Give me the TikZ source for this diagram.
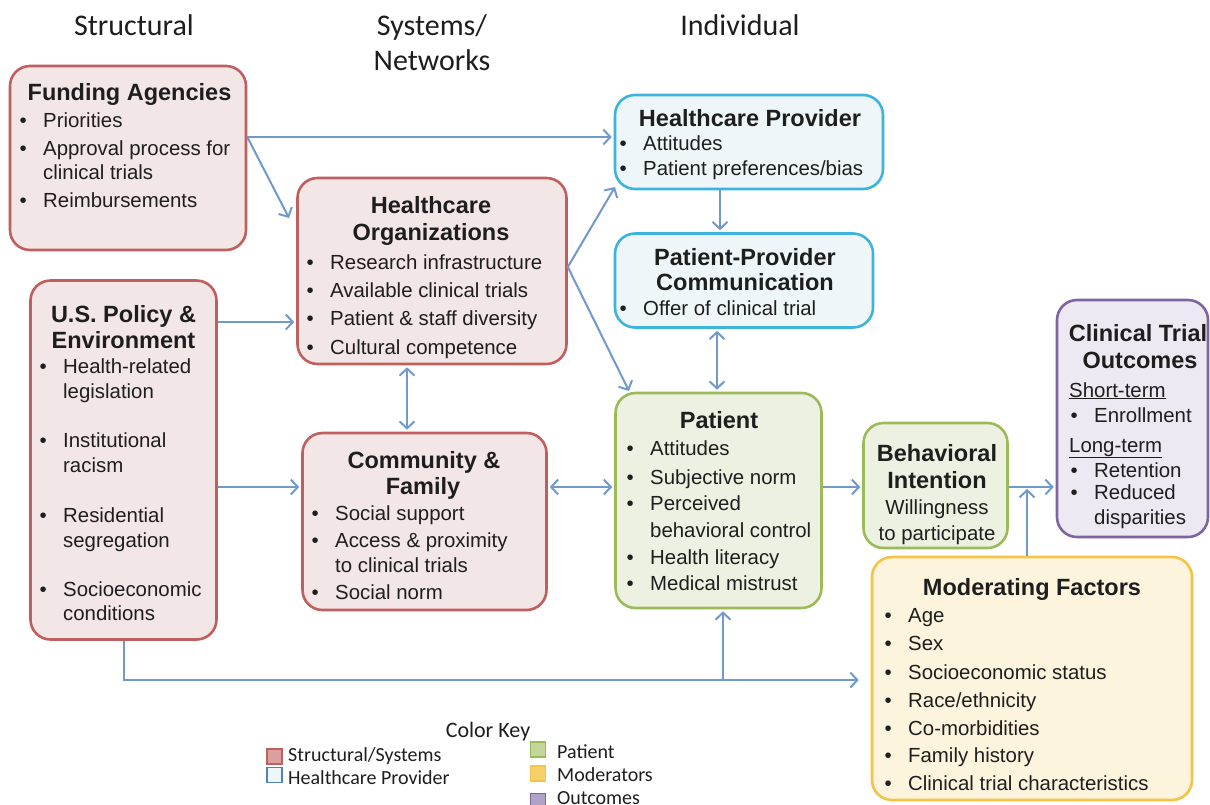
\documentclass[tikz,border=0pt]{standalone}
\usepackage{fontspec}
\setmainfont{Liberation Sans}
\newfontfamily\headfont{Carlito}
\usetikzlibrary{arrows.meta}

\definecolor{redB}{HTML}{C0605E}
\definecolor{redF}{HTML}{F3E6E6}
\definecolor{bluB}{HTML}{3CB4DC}
\definecolor{bluF}{HTML}{EEF6FA}
\definecolor{keyBlu}{HTML}{4F81BD}
\definecolor{grnB}{HTML}{9BBB59}
\definecolor{grnF}{HTML}{EDF1E2}
\definecolor{purB}{HTML}{8064A2}
\definecolor{purF}{HTML}{ECE9F2}
\definecolor{ylwB}{HTML}{F5C446}
\definecolor{ylwF}{HTML}{FDF4DE}
\definecolor{arr}{HTML}{7099CC}
\definecolor{ink}{HTML}{1E1E1E}

\tikzset{
  box/.style={draw, line width=2.6pt, rounded corners=20pt, inner sep=0pt},
  redbox/.style={box, draw=redB, fill=redF},
  blubox/.style={box, draw=bluB, fill=bluF},
  grnbox/.style={box, draw=grnB, fill=grnF},
  purbox/.style={box, draw=purB, fill=purF},
  ylwbox/.style={box, draw=ylwB, fill=ylwF},
  ttl/.style={font=\fontsize{23.5}{28}\selectfont\bfseries, text=ink, inner sep=0pt, anchor=base},
  sub/.style={font=\fontsize{20.4}{24}\selectfont, text=ink, inner sep=0pt, anchor=base},
  itm/.style={font=\fontsize{20.4}{24}\selectfont, text=ink, inner sep=0pt, anchor=base west},
  hd/.style={font=\headfont\fontsize{30}{36}\selectfont, text=ink, inner sep=0pt, anchor=base},
  keyhd/.style={font=\headfont\fontsize{22}{26}\selectfont, text=ink, inner sep=0pt, anchor=base},
  keytxt/.style={font=\headfont\fontsize{20}{24}\selectfont, text=ink, inner sep=0pt, anchor=base west},
  swatch/.style={line width=1.6pt, minimum size=15pt, inner sep=0pt},
  tip/.tip={Straight Barb[length=7pt,width=15pt]},
  link/.style={draw=arr, line width=2pt, -tip, shorten >=2pt},
  both/.style={draw=arr, line width=2pt, tip-tip, shorten >=2pt, shorten <=2pt},
}
\newcommand\bu{\llap{\textbullet\hspace{16.5pt}}}

\begin{document}
\begin{tikzpicture}[x=1pt, y=-1pt]
\fill[white] (0,0) rectangle (1210,804);
\useasboundingbox (0,0) rectangle (1210,804);

% column headings
\node[hd] (hStruct) at (134,35) {Structural};
\node[hd] (hSys1) at (432,35) {Systems/};
\node[hd] (hSys2) at (432,70) {Networks};
\node[hd] (hInd) at (740,35) {Individual};

% boxes
\node[redbox, minimum width=236pt, minimum height=184pt] (fund) at (128,158) {};
\node[redbox, minimum width=186pt, minimum height=359pt] (pol) at (123.5,460) {};
\node[redbox, minimum width=269pt, minimum height=186pt] (org) at (432,271) {};
\node[redbox, minimum width=244pt, minimum height=177pt] (comm) at (424.5,521.5) {};
\node[blubox, minimum width=268pt, minimum height=94pt] (prov) at (749,142) {};
\node[blubox, minimum width=258pt, minimum height=94pt] (ppc) at (744,280.5) {};
\node[grnbox, minimum width=206pt, minimum height=215pt] (pat) at (718.5,500.5) {};
\node[grnbox, minimum width=144pt, minimum height=125pt] (beh) at (935.5,485.5) {};
\node[purbox, minimum width=151pt, minimum height=237pt] (out) at (1132.5,418.5) {};
\node[ylwbox, minimum width=320pt, minimum height=243pt] (mod) at (1032,678.5) {};

% Funding Agencies
\node[ttl] (fundT) at (129.5,100) {Funding Agencies};
\node[itm] (fund1) at (43,127) {\bu Priorities};
\node[itm] (fund2) at (43,155) {\bu Approval process for};
\node[itm] (fund2b) at (43,179) {clinical trials};
\node[itm] (fund3) at (43,207) {\bu Reimbursements};

% U.S. Policy & Environment
\node[ttl] (polT1) at (123.5,322) {U.S. Policy \&};
\node[ttl] (polT2) at (123.5,348) {Environment};
\node[itm] (pol1) at (63,373) {\bu Health-related};
\node[itm] (pol1b) at (63,398) {legislation};
\node[itm] (pol2) at (63,447) {\bu Institutional};
\node[itm] (pol2b) at (63,472) {racism};
\node[itm] (pol3) at (63,522) {\bu Residential};
\node[itm] (pol3b) at (63,547) {segregation};
\node[itm] (pol4) at (63,596) {\bu Socioeconomic};
\node[itm] (pol4b) at (63,620) {conditions};

% Healthcare Organizations
\node[ttl] (orgT1) at (431,213) {Healthcare};
\node[ttl] (orgT2) at (431,240) {Organizations};
\node[itm] (org1) at (330,269) {\bu Research infrastructure};
\node[itm] (org2) at (330,297) {\bu Available clinical trials};
\node[itm] (org3) at (330,325) {\bu Patient \& staff diversity};
\node[itm] (org4) at (330,354) {\bu Cultural competence};

% Community & Family
\node[ttl] (commT1) at (424,468) {Community \&};
\node[ttl] (commT2) at (423,494) {Family};
\node[itm] (comm1) at (335,520) {\bu Social support};
\node[itm] (comm2) at (335,547) {\bu Access \& proximity};
\node[itm] (comm2b) at (335,572) {to clinical trials};
\node[itm] (comm3) at (335,599) {\bu Social norm};

% Healthcare Provider
\node[ttl] (provT) at (750,126) {Healthcare Provider};
\node[itm] (prov1) at (643,150) {\bu Attitudes};
\node[itm] (prov2) at (643,175) {\bu Patient preferences/bias};

% Patient-Provider Communication
\node[ttl] (ppcT1) at (745,265) {Patient-Provider};
\node[ttl] (ppcT2) at (745,290) {Communication};
\node[itm] (ppc1) at (643,315) {\bu Offer of clinical trial};

% Patient
\node[ttl] (patT) at (719,428) {Patient};
\node[itm] (pat1) at (650,455) {\bu Attitudes};
\node[itm] (pat2) at (650,484) {\bu Subjective norm};
\node[itm] (pat3) at (650,510) {\bu Perceived};
\node[itm] (pat3b) at (650,537) {behavioral control};
\node[itm] (pat4) at (650,564) {\bu Health literacy};
\node[itm] (pat5) at (650,590) {\bu Medical mistrust};

% Behavioral Intention
\node[ttl] (behT1) at (937,461) {Behavioral};
\node[ttl] (behT2) at (937,488) {Intention};
\node[sub] (beh1) at (937,514) {Willingness};
\node[sub] (beh2) at (937,540) {to participate};

% Clinical Trial Outcomes
\node[ttl] (outT1) at (1138,341) {Clinical Trial};
\node[ttl] (outT2) at (1140,368) {Outcomes};
\node[itm] (outS) at (1069,397) {\underline{Short-term}};
\node[itm] (out1) at (1094,422) {\bu Enrollment};
\node[itm] (outL) at (1069,452) {\underline{Long-term}};
\node[itm] (out2) at (1094,477) {\bu Retention};
\node[itm] (out3) at (1094,499) {\bu Reduced};
\node[itm] (out3b) at (1094,524) {disparities};

% Moderating Factors
\node[ttl] (modT) at (1032,595) {Moderating Factors};
\node[itm] (mod1) at (908,622) {\bu Age};
\node[itm] (mod2) at (908,650) {\bu Sex};
\node[itm] (mod3) at (908,679) {\bu Socioeconomic status};
\node[itm] (mod4) at (908,707) {\bu Race/ethnicity};
\node[itm] (mod5) at (908,735) {\bu Co-morbidities};
\node[itm] (mod6) at (908,762) {\bu Family history};
\node[itm] (mod7) at (908,790) {\bu Clinical trial characteristics};

% connector levels and columns
\coordinate (r1) at (0,137);
\coordinate (r2) at (0,322);
\coordinate (r3) at (0,487);
\coordinate (r4) at (0,680);
\coordinate (rOrg) at (0,267);
\coordinate (c1) at (407,0);
\coordinate (c2) at (720,0);
\coordinate (c3) at (717,0);
\coordinate (c4) at (1027,0);
\coordinate (c6) at (723,0);
\coordinate (orgIn) at (289,218);
\coordinate (provIn) at (615,187);
\coordinate (patIn) at (629,391);

% connectors
\draw[link] (fund.east |- r1) -- (prov.west |- r1);
\draw[link, shorten >=0pt] (fund.east |- r1) -- (orgIn);
\draw[link] (pol.east |- r2) -- (org.west |- r2);
\draw[link] (pol.east |- r3) -- (comm.west |- r3);
\draw[both] (org.south -| c1) -- (comm.north -| c1);
\draw[link, shorten >=0pt] (org.east |- rOrg) -- (provIn);
\draw[link, shorten >=0pt] (org.east |- rOrg) -- (patIn);
\draw[link] (prov.south -| c2) -- (ppc.north -| c2);
\draw[both] (ppc.south -| c3) -- (pat.north -| c3);
\draw[both] (comm.east |- r3) -- (pat.west |- r3);
\draw[link] (pat.east |- r3) -- (beh.west |- r3);
\draw[link] (beh.east |- r3) -- (out.west |- r3);
\draw[link] (mod.north -| c4) -- (c4 |- r3);
\draw[link, shorten >=12pt] (pol.south) -- (pol.south |- r4) -- (mod.west |- r4);
\draw[link] (c6 |- r4) -- (c6 |- pat.south);

% colour key
\node[keyhd] (keyT) at (488,737) {Color Key};
\node[swatch, draw=redB, fill=redB!60] (kRed) at (274.5,756.5) {};
\node[swatch, draw=keyBlu, fill=bluF] (kBlu) at (274.5,775) {};
\node[swatch, draw=grnB, fill=grnB!60] (kGrn) at (538,749.5) {};
\node[swatch, draw=ylwB, fill=ylwB!80] (kYlw) at (538,773.5) {};
\node[swatch, draw=purB, fill=purB!60] (kPur) at (538,801) {};
\node[keytxt] (kRedT) at (288,761) {Structural/Systems};
\node[keytxt] (kBluT) at (288,784) {Healthcare Provider};
\node[keytxt] (kGrnT) at (557,758) {Patient};
\node[keytxt] (kYlwT) at (557,781) {Moderators};
\node[keytxt] (kPurT) at (557,804) {Outcomes};
\end{tikzpicture}
\end{document}
